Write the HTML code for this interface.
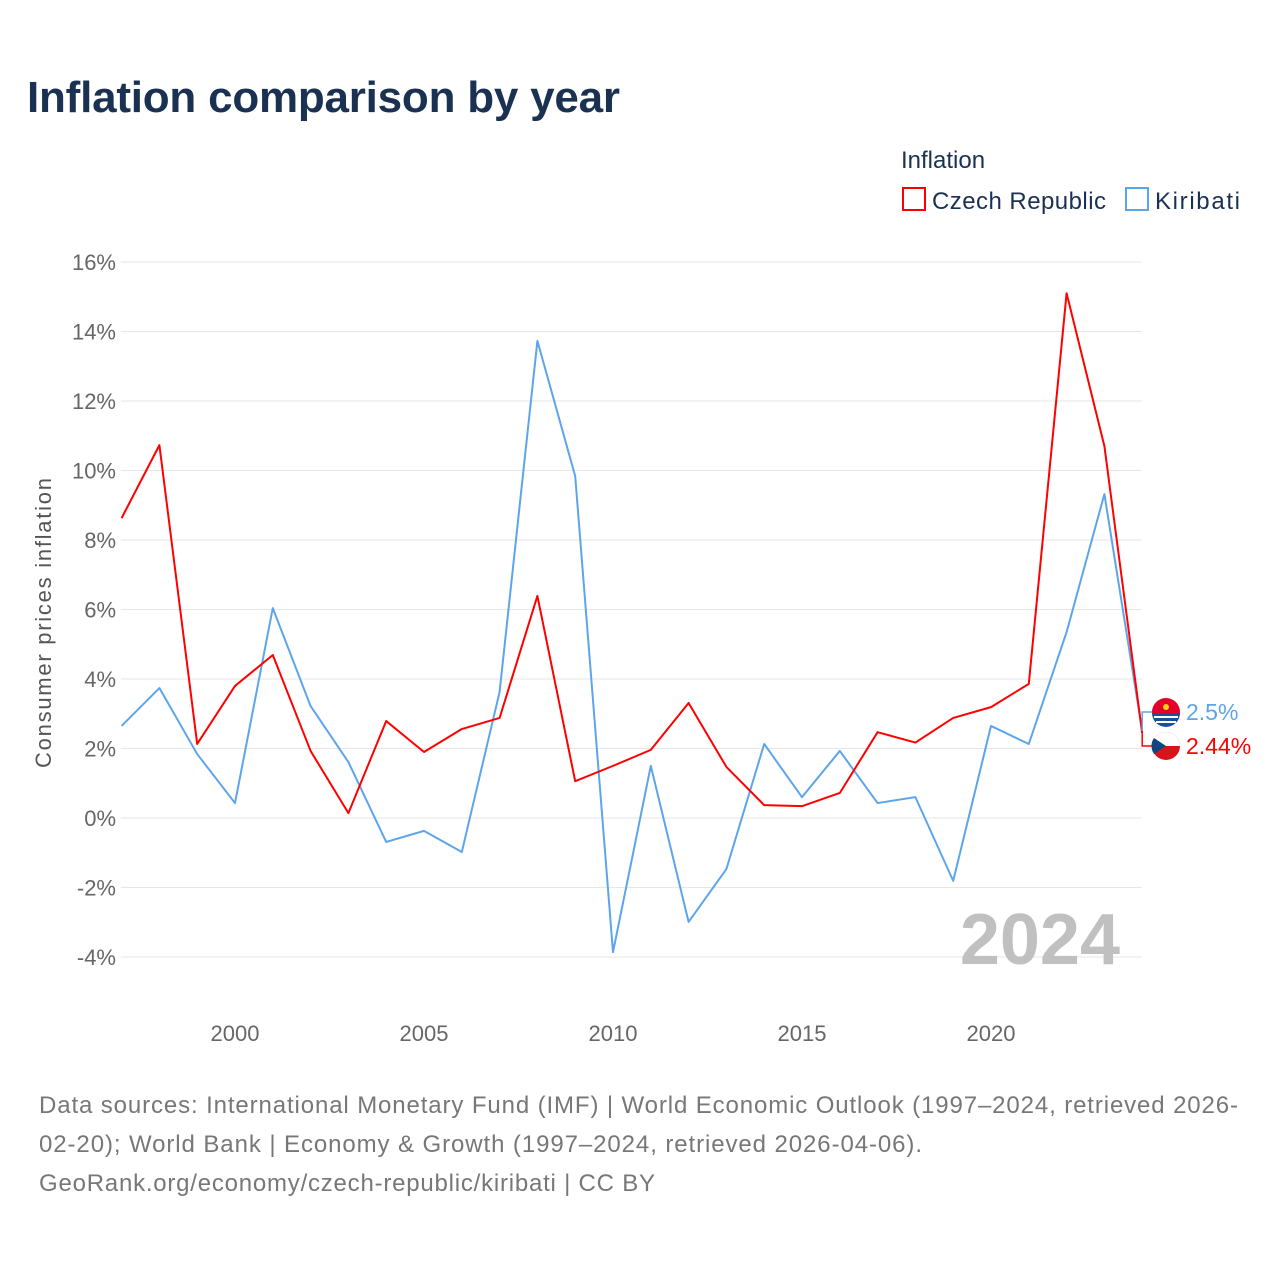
<!DOCTYPE html>
<html><head><meta charset="utf-8"><style>
body{margin:0;background:#fff;font-family:"Liberation Sans",sans-serif}
svg text{font-family:"Liberation Sans",sans-serif}
</style></head><body>
<svg id="c" width="1280" height="1280" viewBox="0 0 1280 1280">
<text x="27" y="112" font-size="44" font-weight="bold" fill="#1a3152" textLength="593">Inflation comparison by year</text>
<text x="901" y="168" font-size="24" fill="#1a3152">Inflation</text>
<g><rect x="903" y="188" width="22" height="22" fill="none" stroke="#f00" stroke-width="2"/><text x="932" y="209" font-size="24" fill="#1a3152" textLength="174">Czech Republic</text></g>
<g><rect x="1126" y="188" width="22" height="22" fill="none" stroke="#5da5ea" stroke-width="2"/><text x="1155" y="209" font-size="24" fill="#1a3152" textLength="85">Kiribati</text></g>
<g id="grid"></g><g id="yt"></g><g id="xt"></g>
<text x="51" y="623" font-size="22" fill="#555" transform="rotate(-90 51 623)" text-anchor="middle" textLength="290">Consumer prices inflation</text>
<text x="1120" y="964" font-size="72" font-weight="bold" fill="#c0c0c0" text-anchor="end">2024</text>
<g id="lines"></g>
<g id="ends"></g>
<text x="39" y="1113" font-size="24" fill="#777" textLength="1199">Data sources: International Monetary Fund (IMF) | World Economic Outlook (1997–2024, retrieved 2026-</text>
<text x="39" y="1152" font-size="24" fill="#777" textLength="883">02-20); World Bank | Economy &amp; Growth (1997–2024, retrieved 2026-04-06).</text>
<text x="39" y="1191" font-size="24" fill="#777" textLength="616">GeoRank.org/economy/czech-republic/kiribati | CC BY</text>
</svg>
<script>
const years=[1997,1998,1999,2000,2001,2002,2003,2004,2005,2006,2007,2008,2009,2010,2011,2012,2013,2014,2015,2016,2017,2018,2019,2020,2021,2022,2023,2024];
const czech=[8.63,10.73,2.13,3.8,4.69,1.93,0.14,2.79,1.9,2.56,2.88,6.39,1.06,1.5,1.96,3.31,1.47,0.37,0.34,0.72,2.47,2.17,2.88,3.19,3.86,15.1,10.7,2.44];
const kiribati=[2.65,3.74,1.84,0.43,6.04,3.22,1.61,-0.69,-0.37,-0.98,3.63,13.73,9.84,-3.86,1.5,-2.99,-1.47,2.13,0.6,1.93,0.43,0.6,-1.81,2.65,2.13,5.35,9.32,2.5];
const yTicks=[-4,-2,0,2,4,6,8,10,12,14,16];
const xTicks=[2000,2005,2010,2015,2020];
const NS="http://www.w3.org/2000/svg";
const X=y=>121.6+(y-1997)*37.8;
const Y=v=>818-v*34.75;
function mk(t,a,p){const e=document.createElementNS(NS,t);for(const k in a)e.setAttribute(k,a[k]);p.appendChild(e);return e;}
const g=document.getElementById('grid'),yt=document.getElementById('yt'),xt=document.getElementById('xt');
yTicks.forEach(v=>{
 const l=mk('line',{x1:121,x2:1142,y1:Y(v),y2:Y(v),stroke:'#e6e6e6','stroke-width':1},g);
 
 
 const t=mk('text',{x:116,y:Y(v)+8,'font-size':22,fill:'#666','text-anchor':'end'},yt);t.textContent=v+'%';
 
 
});
xTicks.forEach(v=>{
 const t=mk('text',{x:X(v),y:1041,'font-size':22,fill:'#666','text-anchor':'middle'},xt);t.textContent=v;
 
 
});
const L=document.getElementById('lines');
function line(d,c,n){const p=mk('polyline',{points:d.map((v,i)=>X(years[i])+','+Y(v)).join(' '),fill:'none',stroke:c,'stroke-width':2,'stroke-linejoin':'round'},L);
 
 }
line(kiribati,'#5da5ea','kiribati-line');
line(czech,'#f00','czech-line');
const E=document.getElementById('ends');
const kx=X(2024),kl=Y(kiribati[27]),cl=Y(czech[27]);
const lyK=712, lyC=746;
mk('path',{d:`M${kx} ${kl} L${kx} ${lyK} L${kx+10} ${lyK}`,stroke:'#5da5ea',fill:'none','stroke-width':1.5},E);
mk('path',{d:`M${kx} ${cl} L${kx} ${lyC} L${kx+10} ${lyC}`,stroke:'#f00',fill:'none','stroke-width':1.5},E);
const f1=mk('g',{},E);


mk('circle',{cx:1166,cy:lyK,r:14,fill:'#e4002b'},f1);
mk('path',{d:`M1152 ${lyK+1} A14 14 0 0 0 1180 ${lyK+1} Z`,fill:'#1b4f9c'},f1);
mk('path',{d:`M1154 ${lyK+5} h24 M1156 ${lyK+10} h20`,stroke:'#fff','stroke-width':2},f1);
mk('circle',{cx:1166,cy:lyK-5,r:3,fill:'#fcd116'},f1);
const f2=mk('g',{},E);


mk('circle',{cx:1166,cy:lyC,r:14,fill:'#d7141a'},f2);
mk('path',{d:`M1152 ${lyC} A14 14 0 0 1 1180 ${lyC} Z`,fill:'#fff'},f2);
mk('path',{d:`M1154 ${lyC-8} L1166 ${lyC} L1154 ${lyC+8} A14 14 0 0 1 1154 ${lyC-8}Z`,fill:'#11457e'},f2);
const t1=mk('text',{x:1186,y:lyK+8,'font-size':23,fill:'#5da5ea'},E);t1.textContent=kiribati[27]+'%';


const t2=mk('text',{x:1186,y:lyC+8,'font-size':23,fill:'#f00'},E);t2.textContent=czech[27]+'%';


</script>
</body></html>
